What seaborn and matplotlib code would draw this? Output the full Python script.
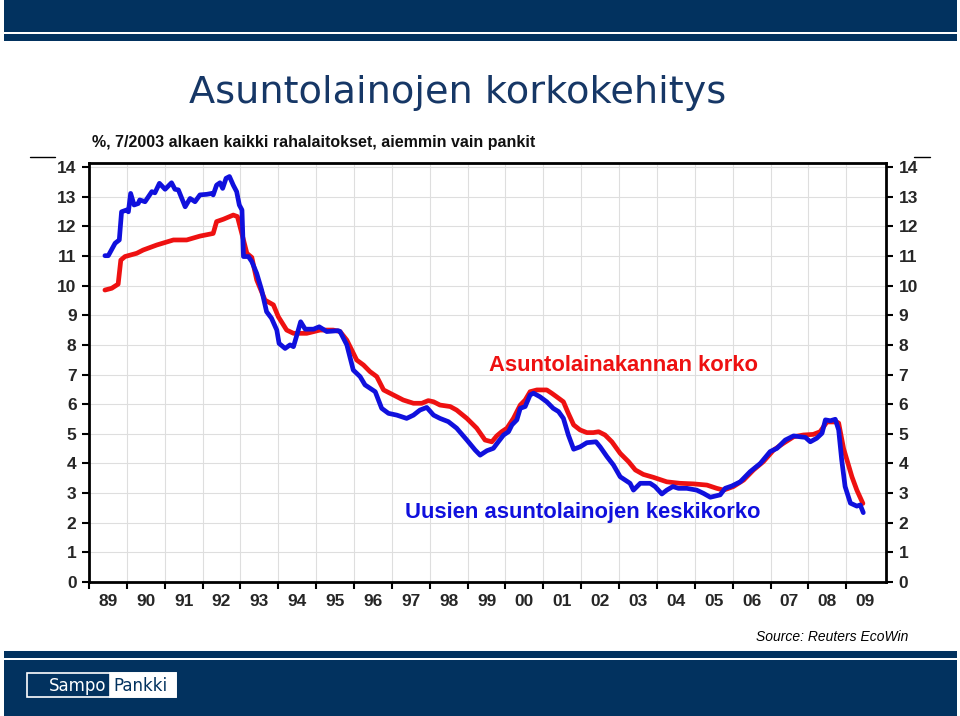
import matplotlib
matplotlib.use("Agg")
import matplotlib.pyplot as plt
import seaborn as sns
import pandas as pd
import numpy as np
from matplotlib.patches import Rectangle
from matplotlib.lines import Line2D

# ---------------- data ----------------
stock_dates = [1989.42, 1989.60, 1989.77, 1989.84, 1989.95, 1990.26, 1990.43, 1990.79, 1991.23, 1991.58,
               1991.93, 1992.28, 1992.37, 1992.55, 1992.81, 1992.92, 1993.08, 1993.17, 1993.30, 1993.43,
               1993.65, 1993.87, 1994.00, 1994.22, 1994.40, 1994.75, 1995.10, 1995.45, 1995.63, 1995.81,
               1996.07, 1996.25, 1996.42, 1996.60, 1996.78, 1997.04, 1997.30, 1997.57, 1997.79, 1997.96,
               1998.10, 1998.27, 1998.54, 1998.71, 1998.98, 1999.24, 1999.46, 1999.64, 1999.77, 1999.90,
               2000.04, 2000.21, 2000.39, 2000.52, 2000.65, 2000.83, 2001.09, 2001.22, 2001.35, 2001.53,
               2001.66, 2001.80, 2001.97, 2002.15, 2002.32, 2002.46, 2002.63, 2002.81, 2003.03, 2003.25,
               2003.43, 2003.64, 2003.91, 2004.26, 2004.61, 2004.97, 2005.32, 2005.58, 2005.76, 2006.02,
               2006.29, 2006.55, 2006.81, 2007.08, 2007.34, 2007.61, 2007.87, 2008.13, 2008.31, 2008.49,
               2008.75, 2008.80, 2008.93, 2009.15, 2009.28, 2009.44]
stock_rate = [9.85, 9.91, 10.05, 10.86, 10.98, 11.09, 11.20, 11.37, 11.54, 11.54,
              11.67, 11.76, 12.16, 12.24, 12.38, 12.33, 11.54, 11.09, 10.95, 10.19,
              9.51, 9.35, 8.95, 8.50, 8.39, 8.39, 8.50, 8.50, 8.45, 8.16,
              7.49, 7.32, 7.10, 6.93, 6.48, 6.31, 6.14, 6.03, 6.03, 6.12,
              6.08, 5.97, 5.92, 5.80, 5.52, 5.19, 4.79, 4.73, 4.93, 5.07,
              5.19, 5.52, 5.97, 6.14, 6.42, 6.48, 6.48, 6.37, 6.25, 6.08,
              5.69, 5.30, 5.13, 5.04, 5.04, 5.07, 4.96, 4.73, 4.34, 4.06,
              3.78, 3.63, 3.53, 3.38, 3.33, 3.31, 3.27, 3.16, 3.10, 3.22,
              3.44, 3.78, 4.06, 4.45, 4.68, 4.90, 4.96, 4.98, 5.07, 5.40,
              5.40, 5.36, 4.50, 3.55, 3.10, 2.65]

new_dates = [1989.42, 1989.51, 1989.69, 1989.80, 1989.86, 1989.99, 1990.04, 1990.10, 1990.19, 1990.30,
             1990.34, 1990.48, 1990.66, 1990.74, 1990.86, 1991.01, 1991.18, 1991.27, 1991.36, 1991.54,
             1991.67, 1991.80, 1991.93, 1992.11, 1992.24, 1992.28, 1992.37, 1992.46, 1992.53, 1992.62,
             1992.71, 1992.81, 1992.90, 1992.97, 1993.04, 1993.08, 1993.21, 1993.30, 1993.43, 1993.56,
             1993.69, 1993.82, 1993.96, 1994.02, 1994.18, 1994.31, 1994.40, 1994.49, 1994.59, 1994.71,
             1994.93, 1995.08, 1995.28, 1995.58, 1995.63, 1995.81, 1995.98, 1996.16, 1996.29, 1996.56,
             1996.73, 1996.91, 1997.13, 1997.39, 1997.57, 1997.74, 1997.92, 1998.10, 1998.27, 1998.49,
             1998.71, 1998.98, 1999.20, 1999.33, 1999.51, 1999.68, 1999.81, 1999.95, 2000.08, 2000.17,
             2000.30, 2000.39, 2000.52, 2000.65, 2000.74, 2000.91, 2001.09, 2001.26, 2001.40, 2001.53,
             2001.66, 2001.80, 2001.97, 2002.15, 2002.39, 2002.50, 2002.68, 2002.85, 2003.03, 2003.16,
             2003.29, 2003.38, 2003.56, 2003.82, 2003.95, 2004.13, 2004.26, 2004.42, 2004.57, 2004.79,
             2005.05, 2005.23, 2005.41, 2005.54, 2005.67, 2005.80, 2005.98, 2006.20, 2006.46, 2006.73,
             2006.99, 2007.17, 2007.39, 2007.61, 2007.78, 2007.92, 2008.05, 2008.22, 2008.36, 2008.45,
             2008.58, 2008.71, 2008.80, 2008.88, 2008.97, 2009.11, 2009.28, 2009.37, 2009.45]
new_rate = [11.01, 11.01, 11.43, 11.54, 12.49, 12.55, 12.49, 13.11, 12.72, 12.77,
            12.89, 12.83, 13.17, 13.13, 13.45, 13.25, 13.47, 13.25, 13.23, 12.66,
            12.94, 12.83, 13.06, 13.08, 13.11, 13.06, 13.39, 13.47, 13.28, 13.62,
            13.68, 13.39, 13.17, 12.72, 12.55, 10.98, 10.98, 10.81, 10.41, 9.85,
            9.12, 8.90, 8.50, 8.05, 7.88, 8.00, 7.94, 8.33, 8.78, 8.53,
            8.53, 8.61, 8.45, 8.48, 8.45, 8.00, 7.15, 6.93, 6.65, 6.42,
            5.86, 5.69, 5.63, 5.52, 5.63, 5.80, 5.89, 5.63, 5.52, 5.41,
            5.19, 4.79, 4.45, 4.28, 4.43, 4.51, 4.73, 4.96, 5.07, 5.30,
            5.47, 5.86, 5.92, 6.31, 6.37, 6.25, 6.08, 5.86, 5.75, 5.52,
            4.96, 4.48, 4.56, 4.70, 4.73, 4.56, 4.23, 3.95, 3.55, 3.44,
            3.33, 3.10, 3.33, 3.33, 3.22, 2.97, 3.10, 3.22, 3.16, 3.16,
            3.10, 2.99, 2.86, 2.90, 2.94, 3.16, 3.24, 3.38, 3.72, 4.00,
            4.40, 4.51, 4.79, 4.93, 4.90, 4.88, 4.73, 4.85, 5.02, 5.47,
            5.44, 5.49, 5.13, 4.12, 3.22, 2.66, 2.56, 2.60, 2.34]

series_names = ["Asuntolainakannan korko", "Uusien asuntolainojen keskikorko"]
year_labels = ["89", "90", "91", "92", "93", "94", "95", "96", "97", "98", "99",
               "00", "01", "02", "03", "04", "05", "06", "07", "08", "09"]
y_ticks = list(range(0, 15))

title = "Asuntolainojen korkokehitys"
subtitle = "%, 7/2003 alkaen kaikki rahalaitokset, aiemmin vain pankit"
source = "Source: Reuters EcoWin"

# ---------------- figure ----------------
sns.set_style("white")
plt.rcParams['font.family'] = ['Liberation Sans', 'DejaVu Sans']

W, H = 960, 716
fig = plt.figure(figsize=(9.6, 7.16), dpi=100)

def fx(px):
    return px / W

def fy(py):
    return 1 - py / H

NAVY = "#02325f"

# banners
fig.patches.append(Rectangle((fx(4), fy(32)), fx(953), 32 / H, transform=fig.transFigure,
                             facecolor=NAVY, edgecolor="none", zorder=0))
fig.patches.append(Rectangle((fx(4), fy(41)), fx(953), 7.5 / H, transform=fig.transFigure,
                             facecolor=NAVY, edgecolor="none", zorder=0))
fig.patches.append(Rectangle((fx(4), fy(658)), fx(953), 7 / H, transform=fig.transFigure,
                             facecolor=NAVY, edgecolor="none", zorder=0))
fig.patches.append(Rectangle((fx(4), fy(716)), fx(953), 56 / H, transform=fig.transFigure,
                             facecolor=NAVY, edgecolor="none", zorder=0))
# logo
fig.patches.append(Rectangle((fx(27), fy(697)), fx(149), 24 / H, transform=fig.transFigure,
                             facecolor=NAVY, edgecolor="white", lw=1.2, zorder=1))
fig.patches.append(Rectangle((fx(110), fy(697)), fx(66), 24 / H, transform=fig.transFigure,
                             facecolor="white", edgecolor="white", lw=1.2, zorder=1))
fig.text(fx(106), fy(686), "Sampo", color="white", fontsize=12, ha="right", va="center",
         family=["DejaVu Sans"], zorder=2)
fig.text(fx(113), fy(686), "Pankki", color=NAVY, fontsize=12, ha="left", va="center",
         family=["DejaVu Sans"], zorder=2)

# decorative dashes
fig.lines.append(Line2D([fx(30), fx(55)], [fy(157), fy(157)], transform=fig.transFigure,
                        color="black", lw=1))
fig.lines.append(Line2D([fx(914), fx(930)], [fy(157), fy(157)], transform=fig.transFigure,
                        color="black", lw=1))

# titles
fig.text(fx(458), fy(93), title, color="#163766", fontsize=27.5, ha="center", va="center",
         family=["DejaVu Sans"])
fig.text(fx(92), fy(143), subtitle, color="#111111", fontsize=11.55, fontweight="bold",
         ha="left", va="center")
fig.text(fx(908), fy(637), source, color="black", fontsize=10, style="italic",
         ha="right", va="center")

# axes
ax = fig.add_axes([fx(89), 1 - 582 / H, fx(886) - fx(89), 419.4 / H])

df = pd.concat([
    pd.DataFrame({"date": stock_dates, "rate": stock_rate, "series": series_names[0]}),
    pd.DataFrame({"date": new_dates, "rate": new_rate, "series": series_names[1]}),
])
sns.lineplot(data=df, x="date", y="rate", hue="series", hue_order=series_names,
             palette=["#ee1111", "#1010dd"], linewidth=3.4, sort=False,
             estimator=None, legend=False, ax=ax)
for ln in ax.lines:
    ln.set_solid_capstyle("round")
    ln.set_solid_joinstyle("round")

ax.set_xlim(1989, 2010.05)
ax.set_ylim(0, 14.15)
ax.set_xlabel("")
ax.set_ylabel("")

years = np.arange(1989, 2011)
ax.set_xticks(years[:-1])
ax.set_xticklabels([])
ax.set_xticks(years[:-1] + 0.5, minor=True)
ax.set_xticklabels(year_labels, minor=True)
ax.set_yticks(y_ticks)
ax.set_yticklabels([str(v) for v in y_ticks])

ax.grid(True, which="major", color="#dedede", lw=0.8)
ax.set_axisbelow(True)
ax.tick_params(axis="x", which="major", direction="out", length=5, width=1.5, color="black",
               bottom=True)
ax.tick_params(axis="x", which="minor", length=0, pad=9, labelsize=12.5)
ax.tick_params(axis="y", which="major", direction="out", length=5, width=1.5, color="black",
               left=True, right=True, labelleft=True, labelright=True, labelsize=12.5, pad=4)
for lab in ax.get_xticklabels(minor=True) + ax.get_yticklabels():
    lab.set_fontweight("bold")
for sp in ax.spines.values():
    sp.set_color("black")
    sp.set_linewidth(2)
    sp.set_visible(True)

# series labels
ax.text(2003.13, 7.29, series_names[0], color="#ee1111", fontsize=15.8, fontweight="bold",
        ha="center", va="center")
ax.text(2002.04, 2.33, series_names[1], color="#1010dd", fontsize=15.8, fontweight="bold",
        ha="center", va="center")

fig.savefig("out.png", dpi=100, facecolor="white")
